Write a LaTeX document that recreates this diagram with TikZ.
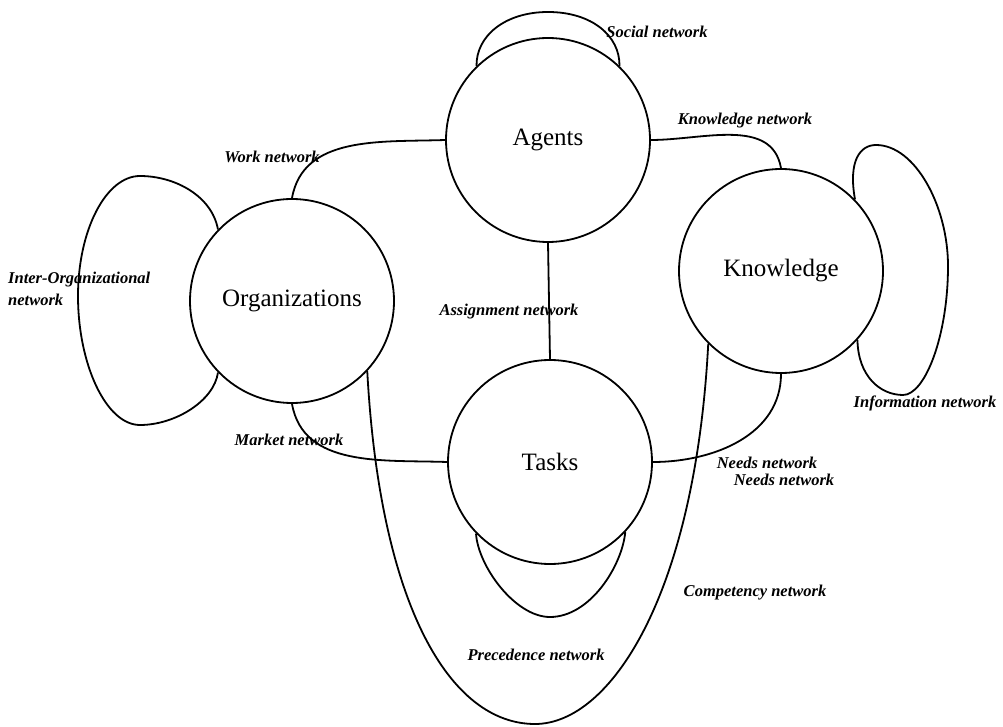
\documentclass[tikz,border=0pt]{standalone}
\usepackage{fontspec}
\setmainfont{Liberation Serif}
\usepackage{tikz}
\usetikzlibrary{calc}

\tikzset{
  entity/.style={draw, circle, line width=1.8pt, minimum size=204pt, inner sep=0pt,
    font=\fontsize{25}{28}\selectfont},
  netlabel/.style={font=\fontsize{16.5}{22}\selectfont\bfseries\itshape, inner sep=0pt},
  link/.style={line width=1.8pt}
}

\begin{document}
\begin{tikzpicture}[x=1pt,y=1pt]
    \useasboundingbox (0,0) rectangle (1003,726);

    \node [entity] (agents) at (548,586) { Agents };
    \node [entity] (orgs) at (292,425) { Organizations };
    \node [entity] (know) at (781,455) { Knowledge };
    \node [entity] (tasks) at (550,264) { Tasks };

    % links between the four entities
    \draw [link] (agents.south) -- (tasks.north);
    \draw [link] (orgs.north) to[out=80,in=182] (agents.west);
    \draw [link] (agents.east) to[out=0,in=100] (know.north);
    \draw [link] (orgs.south) to[out=-80,in=178] (tasks.west);
    \draw [link] (know.south) to[out=-90,in=0] (tasks.east);
    \draw [link] (orgs.-43) .. controls (380,120) and (450,2) .. (535,2)
                 .. controls (610,2) and (695,130) .. (know.225);

    % self loops
    \draw [link] (agents.134) .. controls (476,690) and (505,714) .. (548,714)
                 .. controls (592,714) and (620,690) .. (agents.46);
    \draw [link] (orgs.136) .. controls (212,530) and (175,550) .. (140,550)
                 .. controls (106,550) and (78,496) .. (78,430)
                 .. controls (78,362) and (106,301) .. (140,301)
                 .. controls (175,301) and (214,325) .. (orgs.224);
    \draw [link] (know.44) .. controls (848,565) and (860,581) .. (876,581)
                 .. controls (915,581) and (948,520) .. (948,460)
                 .. controls (948,390) and (925,331) .. (903,331)
                 .. controls (880,331) and (858,350) .. (know.-42);
    \draw [link] (tasks.224) .. controls (478,160) and (515,109) .. (550,109)
                 .. controls (590,109) and (622,160) .. (tasks.-43);

    % network names
    \node [netlabel] (social) at (657,694) {Social network};
    \node [netlabel] (knownet) at (745,605) {Knowledge network};
    \node [netlabel] (work) at (272,569) {Work network};
    \node [netlabel, align=left, anchor=west] (interorg) at (8,437) {Inter-Organizational\\network};
    \node [netlabel] (assign) at (509,414) {Assignment network};
    \node [netlabel] (market) at (289,286) {Market network};
    \node [netlabel] (needs1) at (767,263) {Needs network};
    \node [netlabel] (needs2) at (784,246) {Needs network};
    \node [netlabel] (info) at (925,323) {Information network};
    \node [netlabel] (compet) at (755,133) {Competency network};
    \node [netlabel] (preced) at (536,71) {Precedence network};
\end{tikzpicture}
\end{document}
